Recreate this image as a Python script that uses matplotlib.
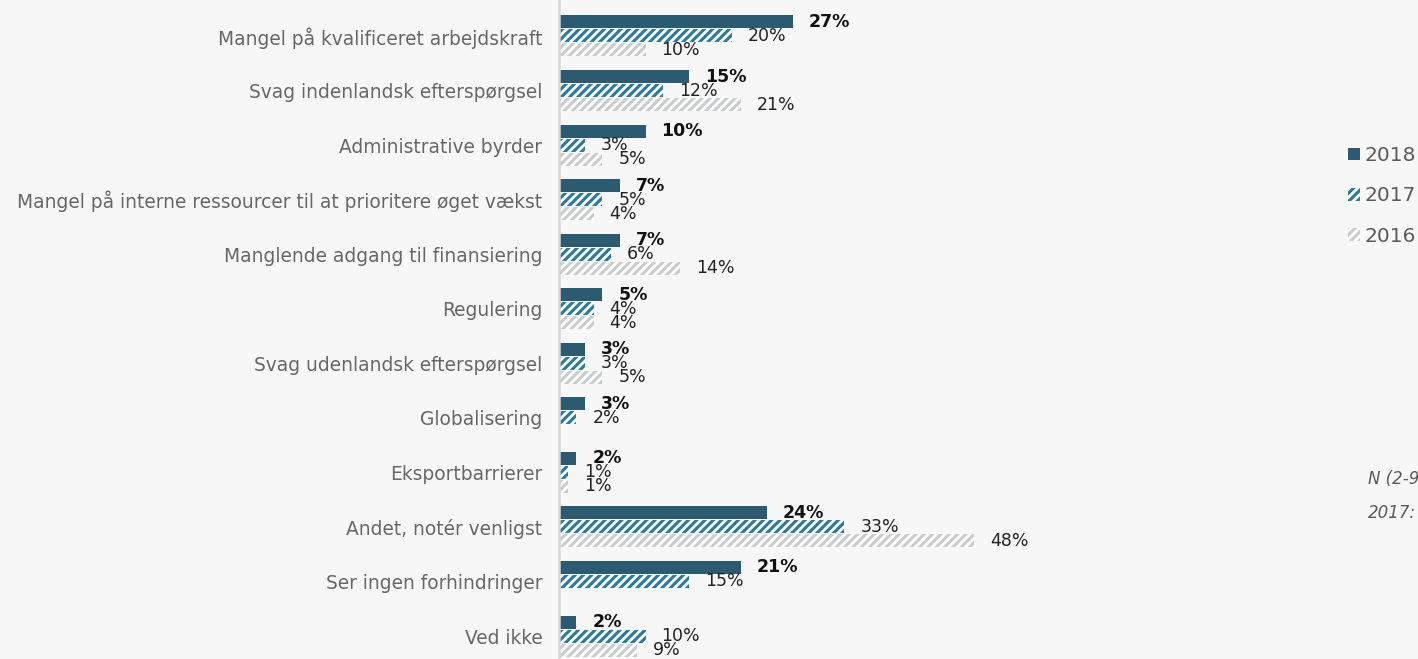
import numpy as np
import matplotlib.pyplot as plt
from matplotlib.patches import Patch

categories = [
    "Mangel på kvalificeret arbejdskraft",
    "Svag indenlandsk efterspørgsel",
    "Administrative byrder",
    "Mangel på interne ressourcer til at prioritere øget vækst",
    "Manglende adgang til finansiering",
    "Regulering",
    "Svag udenlandsk efterspørgsel",
    "Globalisering",
    "Eksportbarrierer",
    "Andet, notér venligst",
    "Ser ingen forhindringer",
    "Ved ikke",
]
v2018 = [27, 15, 10, 7, 7, 5, 3, 3, 2, 24, 21, 2]
v2017 = [20, 12, 3, 5, 6, 4, 3, 2, 1, 33, 15, 10]
v2016 = [10, 21, 5, 4, 14, 4, 5, None, 1, 48, None, 9]
years = ["2018", "2017", "2016"]

bg = "#f7f7f7"
c2018 = "#2b5a71"
c2017 = "#2a7a9c"
c2016 = "#c9cccc"

plt.rcParams['hatch.linewidth'] = 2.2

W, H = 1418, 659
fig = plt.figure(figsize=(W / 100, H / 100), dpi=100, facecolor=bg)
ax = fig.add_axes([559 / W, 0, 780 / W, 1])
ax.set_facecolor(bg)

px_per_pct = 8.65
ax.set_xlim(0, 780 / px_per_pct)
unit = 54.55
ax.set_ylim(11 + 23 / unit, -36 / unit)

y = np.arange(len(categories))
off = 14 / unit
h = 13 / unit

ax.barh(y - off, v2018, height=h, color=c2018, linewidth=0)
ax.barh(y, v2017, height=h, color="white", edgecolor=c2017, hatch="////", linewidth=0)
v16 = [v if v is not None else 0 for v in v2016]
ax.barh(y + off, v16, height=h, color="white", edgecolor=c2016, hatch="////", linewidth=0)

gap = 16 / px_per_pct
for i in range(len(categories)):
    ax.text(v2018[i] + gap, y[i] - off, f"{v2018[i]}%", va="center", ha="left",
            fontsize=12.5, fontweight="bold", color="#111111")
    ax.text(v2017[i] + gap, y[i], f"{v2017[i]}%", va="center", ha="left",
            fontsize=12.5, color="#222222")
    if v2016[i] is not None:
        ax.text(v2016[i] + gap, y[i] + off, f"{v2016[i]}%", va="center", ha="left",
                fontsize=12.5, color="#222222")

ax.set_yticks(y)
ax.set_yticklabels(categories, fontsize=13.4, color="#666666")
ax.tick_params(axis="y", length=0, pad=12)
ax.set_xticks([])
for s in ["top", "right", "bottom"]:
    ax.spines[s].set_visible(False)
ax.spines["left"].set_color("#d6d6d6")
ax.spines["left"].set_linewidth(1.8)

handles = [
    Patch(facecolor=c2018, edgecolor=c2018, linewidth=0),
    Patch(facecolor="white", edgecolor=c2017, hatch="////", linewidth=0),
    Patch(facecolor="white", edgecolor=c2016, hatch="////", linewidth=0),
]
fig.legend(handles, years, loc="upper left", bbox_to_anchor=(1338 / W, 1 - 136 / H),
           frameon=False, fontsize=14.5, labelcolor="#5a5a5a", handlelength=0.6,
           handleheight=0.6, handletextpad=0.2, labelspacing=1.06, borderpad=0)

fig.text(1368 / W, 1 - 479 / H, "N (2-9", fontsize=12, style="italic",
         color="#5a5a5a", va="center", ha="left")
fig.text(1368 / W, 1 - 513 / H, "2017:", fontsize=12, style="italic",
         color="#5a5a5a", va="center", ha="left")

fig.savefig("out.png", dpi=100, facecolor=bg)
